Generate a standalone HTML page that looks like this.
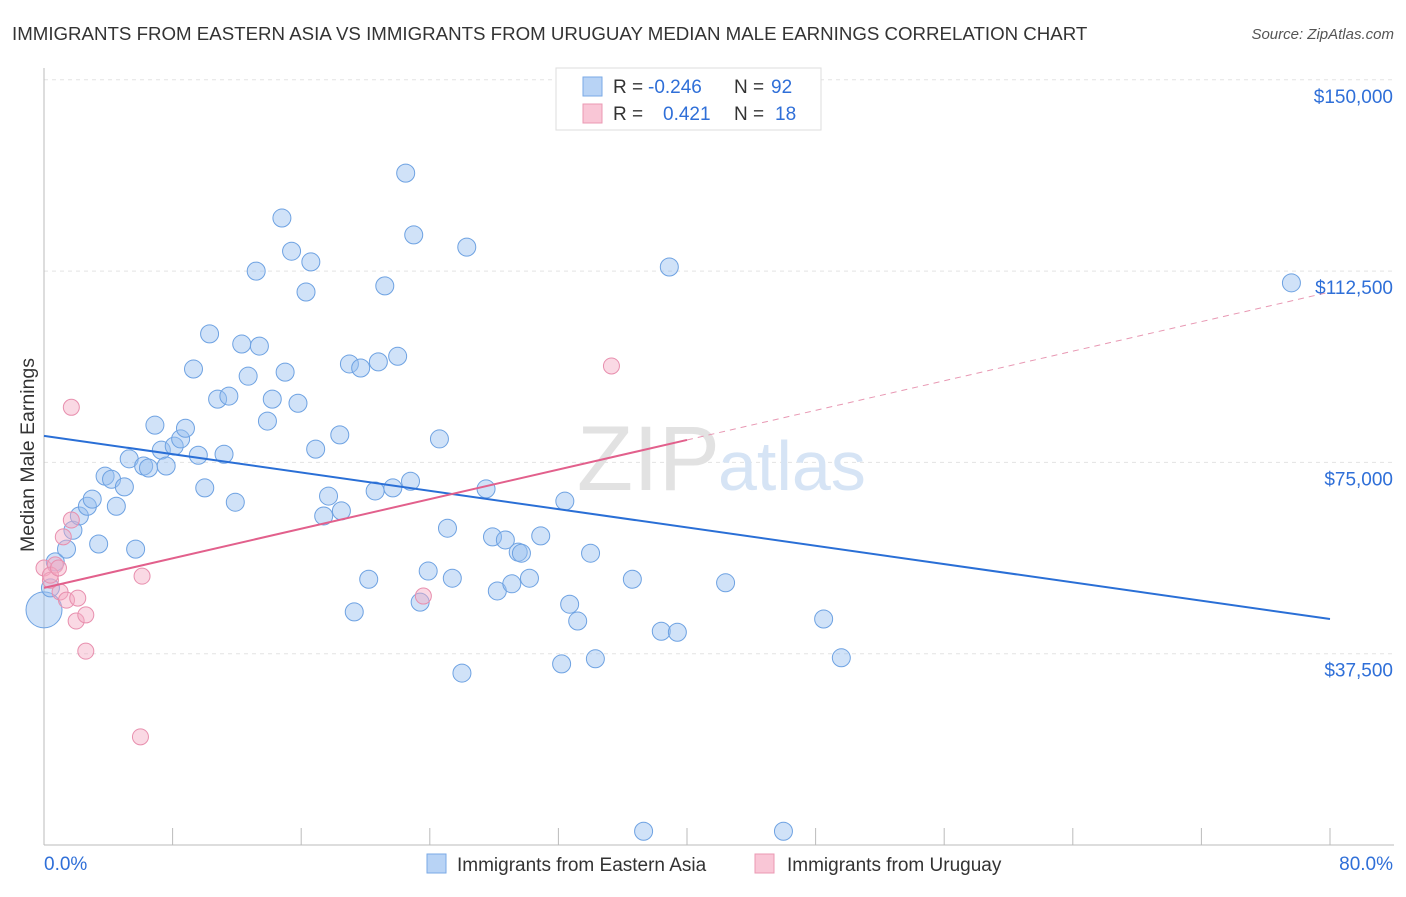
<!DOCTYPE html>
<html><head><meta charset="utf-8"><style>
body{margin:0;background:#fff;font-family:"Liberation Sans",sans-serif;}
svg text{font-family:"Liberation Sans",sans-serif;}
</style></head><body>
<svg id="chart" width="1406" height="892">
<text x="12" y="40" font-size="18.7" fill="#333">IMMIGRANTS FROM EASTERN ASIA VS IMMIGRANTS FROM URUGUAY MEDIAN MALE EARNINGS CORRELATION CHART</text>
<text x="1394" y="39" font-size="15" fill="#555" text-anchor="end" font-style="italic">Source: ZipAtlas.com</text>
<g id="grid"></g>
<text x="720" y="490" font-size="92" fill="#e2e2e2" text-anchor="end" font-family="Liberation Serif">ZIP</text>
<text x="718" y="490" font-size="70" fill="#d6e4f5">atlas</text>
<g id="axes"></g>
<text transform="translate(34,455) rotate(-90)" font-size="19.5" fill="#333" text-anchor="middle">Median Male Earnings</text>
<g id="marks"></g>
<g>
<rect x="556" y="68" width="265" height="62" fill="#fff" stroke="#ddd"/>
<rect x="583" y="77" width="19" height="19" fill="#b8d3f5" stroke="#7aaae6"/>
<rect x="583" y="104" width="19" height="19" fill="#f9c6d6" stroke="#eb98b3"/>
<text x="613" y="93" font-size="19" fill="#333">R = <tspan fill="#2f6fd8" x="648">-0.246</tspan></text>
<text x="734" y="93" font-size="19" fill="#333">N = <tspan fill="#2f6fd8" x="771">92</tspan></text>
<text x="613" y="120" font-size="19" fill="#333">R = <tspan fill="#2f6fd8" x="663">0.421</tspan></text>
<text x="734" y="120" font-size="19" fill="#333">N = <tspan fill="#2f6fd8" x="775">18</tspan></text>
</g>
<g>
<rect x="427" y="854" width="19" height="19" fill="#b8d3f5" stroke="#7aaae6"/>
<text x="457" y="871" font-size="19" fill="#333">Immigrants from Eastern Asia</text>
<rect x="755" y="854" width="19" height="19" fill="#f9c6d6" stroke="#eb98b3"/>
<text x="787" y="871" font-size="19" fill="#333">Immigrants from Uruguay</text>
</g>
</svg>
<script>
const yTicks=[37500,75000,112500,150000];
const yTickLabels=["$37,500","$75,000","$112,500","$150,000"];
const xTicks=[0,8,16,24,32,40,48,56,64,72,80];
const blueX=[0.0,0.4,0.7,1.4,1.8,2.2,2.7,3.0,3.4,3.8,4.2,4.5,5.0,5.3,5.7,6.2,6.5,6.9,7.3,7.6,8.1,8.5,8.8,9.6,10.0,10.3,9.3,10.8,11.2,11.5,11.9,12.3,12.7,13.2,13.4,13.9,14.2,15.0,14.8,15.4,15.8,16.3,16.6,16.9,17.4,17.7,18.4,18.5,19.0,19.3,19.7,20.2,20.6,20.8,21.2,21.7,22.0,22.5,22.8,23.0,23.4,23.9,24.6,25.1,25.4,26.0,26.3,27.5,27.9,28.2,28.7,29.1,29.5,29.7,30.2,30.9,32.2,32.4,32.7,33.2,34.0,34.3,36.6,37.3,38.4,39.4,38.9,42.4,46.0,48.5,49.6,77.6];
const blueY=[46100,50400,55500,58000,61700,64500,66400,67800,59000,72300,71700,66400,70200,75700,58000,74300,73900,82300,77400,74300,78200,79600,81700,76400,70000,100200,93300,87400,76600,88000,67200,98200,91900,112500,97800,83100,87400,92700,122900,116400,86600,108400,114300,77600,64500,68400,80400,65500,94300,45700,93500,52100,69400,94700,109600,70000,95800,131700,71300,119600,47600,53700,79600,62100,52300,33700,117200,69800,60400,49800,59800,51200,57400,57200,52300,60600,35500,67400,47200,43900,57200,36500,52100,2700,41900,41700,113300,51400,2700,44300,36700,110200];
const pinkX=[0.0,0.4,0.7,1.0,1.4,1.2,1.7,1.7,2.1,2.0,2.6,2.6,6.1,6.0,23.6,35.3,0.4,0.9];
const pinkY=[54300,51900,54900,49600,48000,60400,63700,85800,48400,43900,45100,38000,52700,21200,48800,93900,52900,54300];
const blueTrend=[80200,44300];
const pinkTrend=[50400,108400];
const NS="http://www.w3.org/2000/svg";
const sx=v=>44+v/80*1286;
const sy=v=>845-v/37500*191.3;
function mk(tag,attrs,parent){const e=document.createElementNS(NS,tag);for(const k in attrs)e.setAttribute(k,attrs[k]);parent.appendChild(e);return e;}
const gridG=document.getElementById('grid'),axesG=document.getElementById('axes'),marksG=document.getElementById('marks');
yTicks.forEach((t,i)=>{
 const l=mk('line',{x1:44,x2:1394,y1:sy(t),y2:sy(t),stroke:'#e3e3e3','stroke-dasharray':'4,4'},gridG);
 
 
 const tx=mk('text',{x:1393,y:sy(t)+23,'font-size':19,fill:'#2f6fd8','text-anchor':'end'},axesG);
 tx.textContent=yTickLabels[i];
 
 
});
const ya=mk('line',{x1:44,x2:44,y1:68,y2:845,stroke:'#bbb'},axesG);


const xa=mk('line',{x1:44,x2:1394,y1:845,y2:845,stroke:'#bbb'},axesG);


xTicks.forEach(t=>{const l=mk('line',{x1:sx(t),x2:sx(t),y1:828,y2:845,stroke:'#bbb'},axesG);
 
 });
const xl0=mk('text',{x:44,y:870,'font-size':19,fill:'#2f6fd8'},axesG);xl0.textContent='0.0%';


const xl1=mk('text',{x:1393,y:870,'font-size':19,fill:'#2f6fd8','text-anchor':'end'},axesG);xl1.textContent='80.0%';


blueX.forEach((x,i)=>{const c=mk('circle',{cx:sx(x),cy:sy(blueY[i]),r:i===0?18:9,fill:'rgba(150,190,240,0.45)',stroke:'#6ea2e2','stroke-width':1},marksG);
 
 });
pinkX.forEach((x,i)=>{const c=mk('circle',{cx:sx(x),cy:sy(pinkY[i]),r:8,fill:'rgba(245,170,195,0.45)',stroke:'#e88fae','stroke-width':1},marksG);
 
 });
const bt=mk('line',{x1:sx(0),y1:sy(blueTrend[0]),x2:sx(80),y2:sy(blueTrend[1]),stroke:'#2a6fd6','stroke-width':2},marksG);


const pm=pinkTrend[0]+(pinkTrend[1]-pinkTrend[0])*0.5;
const pt=mk('line',{x1:sx(0),y1:sy(pinkTrend[0]),x2:sx(40),y2:sy(pm),stroke:'#e2608c','stroke-width':2},marksG);


const pd=mk('line',{x1:sx(40),y1:sy(pm),x2:sx(80),y2:sy(pinkTrend[1]),stroke:'#e898b3','stroke-width':1,'stroke-dasharray':'6,5'},marksG);


</script>
</body></html>
